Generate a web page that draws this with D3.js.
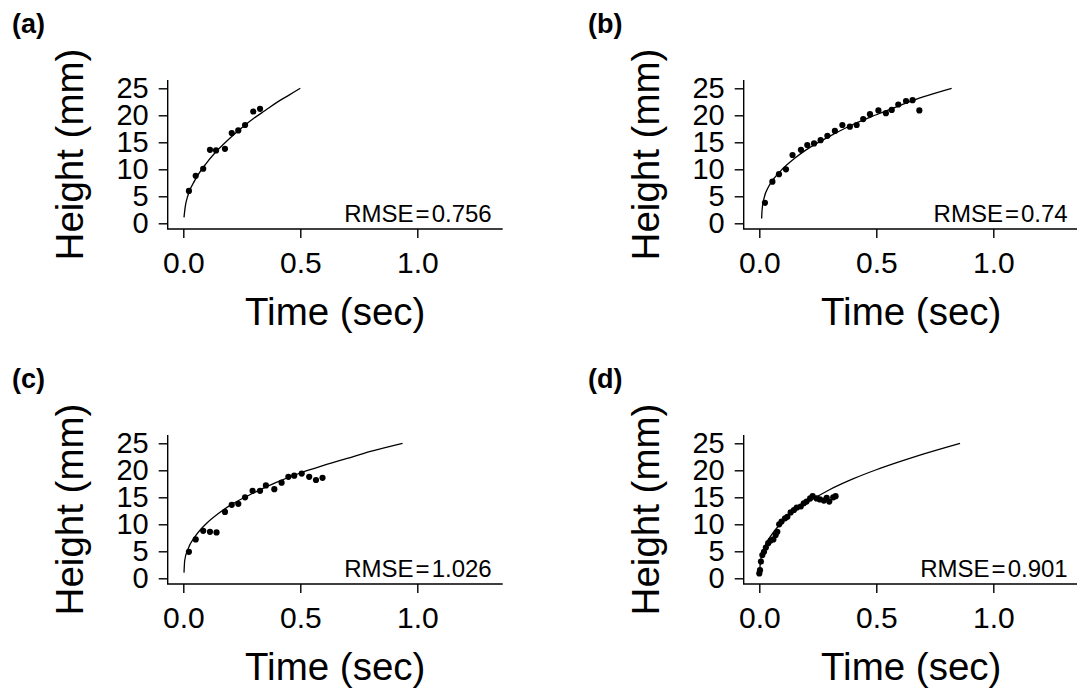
<!DOCTYPE html>
<html>
<head>
<meta charset="utf-8">
<script src="https://cdn.jsdelivr.net/npm/d3@7"></script>
<style>
  html, body { margin: 0; padding: 0; background: #fff; }
  svg { display: block; }
  text { font-family: "Liberation Sans", Arial, sans-serif; fill: #000; }
</style>
</head>
<body>
<svg id="chart" width="1077" height="698"></svg>
<script>
// ---------- data ----------
const panelLabels = ["(a)", "(b)", "(c)", "(d)"];
const rmseValues = ["0.756", "0.74", "1.026", "0.901"];
const xTickValues = [0, 0.5, 1.0];
const yTickValues = [0, 5, 10, 15, 20, 25];
const xAxisTitle = "Time (sec)";
const yAxisTitle = "Height (mm)";

// observed points
const timeA   = [0.024, 0.053, 0.085, 0.114, 0.140, 0.178, 0.207, 0.235, 0.264, 0.299, 0.328];
const heightA = [6.0, 8.8, 10.1, 13.6, 13.5, 13.8, 16.7, 17.2, 18.2, 20.7, 21.2];

const timeB   = [0.024, 0.056, 0.084, 0.114, 0.142, 0.178, 0.205, 0.234, 0.262, 0.291, 0.323, 0.355,
                 0.387, 0.416, 0.444, 0.473, 0.509, 0.541, 0.566, 0.594, 0.627, 0.655, 0.684];
const heightB = [3.8, 7.7, 9.1, 10.0, 12.65, 13.6, 14.5, 14.8, 15.4, 16.2, 17.1, 18.2,
                 17.9, 18.2, 19.3, 20.2, 20.9, 20.4, 21.0, 22.0, 22.65, 22.8, 20.9];

const timeC   = [0.024, 0.053, 0.085, 0.114, 0.142, 0.178, 0.207, 0.235, 0.264, 0.296,
                 0.328, 0.353, 0.389, 0.420, 0.449, 0.474, 0.506, 0.538, 0.567, 0.595];
const heightC = [4.9, 7.2, 8.8, 8.6, 8.5, 12.3, 13.6, 13.8, 15.0, 16.2,
                 16.2, 17.2, 16.5, 17.7, 18.8, 19.0, 19.4, 18.8, 18.2, 18.6];

const timeD   = [0.0, 0.003, 0.007, 0.013, 0.020, 0.028, 0.038, 0.048, 0.060, 0.070, 0.077, 0.085,
                 0.095, 0.110, 0.120, 0.134, 0.148, 0.160, 0.177, 0.190, 0.202, 0.217, 0.228,
                 0.245, 0.259, 0.276, 0.288, 0.299, 0.316, 0.326];
const heightD = [0.9, 1.5, 3.1, 4.3, 4.9, 5.7, 6.5, 7.0, 7.2, 8.0, 8.6, 10.0,
                 10.5, 11.1, 11.4, 12.2, 12.65, 13.1, 13.3, 13.9, 14.2, 14.8, 15.2,
                 14.8, 14.6, 14.4, 14.9, 14.2, 15.0, 15.2];

// fitted curves
const fitTimeA   = [0.003, 0.008, 0.02, 0.05, 0.10, 0.15, 0.20, 0.25, 0.30, 0.35, 0.40, 0.45, 0.50];
const fitHeightA = [1.1, 3.0, 5.2, 8.0, 11.2, 13.7, 15.8, 17.7, 19.4, 20.9, 22.4, 23.7, 25.0];

const fitTimeB   = [0.010, 0.012, 0.02, 0.04, 0.07, 0.10, 0.15, 0.20, 0.30, 0.40, 0.50, 0.60, 0.70, 0.822];
const fitHeightB = [0.9, 2.5, 4.6, 6.8, 8.7, 10.1, 12.0, 13.6, 16.1, 18.3, 20.1, 21.8, 23.4, 25.0];

const fitTimeC   = [0.003, 0.006, 0.02, 0.05, 0.10, 0.15, 0.20, 0.30, 0.40, 0.50, 0.60, 0.70, 0.80, 0.937];
const fitHeightC = [1.05, 3.3, 5.4, 7.7, 10.2, 12.0, 13.5, 15.8, 17.8, 19.5, 20.9, 22.2, 23.5, 25.0];

const fitTimeD   = [0.001, 0.005, 0.02, 0.05, 0.10, 0.15, 0.20, 0.30, 0.40, 0.50, 0.60, 0.70, 0.858];
const fitHeightD = [0.9, 3.1, 5.5, 7.9, 10.5, 12.4, 13.9, 16.4, 18.4, 20.1, 21.6, 23.0, 25.0];

// ---------- layout ----------
const colOffset = [0, 576];
const rowOffset = [0, 355];
const box = { left: 167.7, right: 502.7, top: 80, bottom: 229 };
const xPix = [183.3, 417.3];   // t = 0, t = 1
const yPix = [223.3, 88.3];    // h = 0, h = 25

const zip = (a, b) => a.map((v, i) => [v, b[i]]);
const panels = [
  { label: panelLabels[0], rmse: rmseValues[0], pts: zip(timeA, heightA), fit: zip(fitTimeA, fitHeightA), col: 0, row: 0 },
  { label: panelLabels[1], rmse: rmseValues[1], pts: zip(timeB, heightB), fit: zip(fitTimeB, fitHeightB), col: 1, row: 0 },
  { label: panelLabels[2], rmse: rmseValues[2], pts: zip(timeC, heightC), fit: zip(fitTimeC, fitHeightC), col: 0, row: 1 },
  { label: panelLabels[3], rmse: rmseValues[3], pts: zip(timeD, heightD), fit: zip(fitTimeD, fitHeightD), col: 1, row: 1 }
];

const svg = d3.select("#chart");
svg.append("rect").attr("width", 1077).attr("height", 698).attr("fill", "#fff");

panels.forEach(p => {
  const g = svg.append("g")
    .attr("transform", `translate(${colOffset[p.col]},${rowOffset[p.row]})`);

  const x = d3.scaleLinear().domain([0, 1]).range(xPix);
  const y = d3.scaleLinear().domain([0, 25]).range(yPix);

  // panel label
  g.append("text")
    .attr("x", 12).attr("y", 32.5)
    .attr("font-size", 27).attr("font-weight", "bold")
    .text(p.label);

  // L-shaped box
  g.append("path")
    .attr("d", `M${box.left},${box.top}V${box.bottom}H${box.right}`)
    .attr("fill", "none").attr("stroke", "#000").attr("stroke-width", 1.4);

  // x axis
  const xa = g.append("g").attr("transform", `translate(0,${box.bottom})`)
    .call(d3.axisBottom(x).tickValues(xTickValues).tickFormat(d3.format(".1f"))
      .tickSize(9).tickPadding(14));
  xa.select(".domain").remove();
  xa.selectAll("line").attr("stroke-width", 1.4);
  xa.selectAll("text").attr("font-size", 30).attr("font-family", "Liberation Sans, Arial, sans-serif").attr("fill", "#000");

  // y axis
  const ya = g.append("g").attr("transform", `translate(${box.left},0)`)
    .call(d3.axisLeft(y).tickValues(yTickValues).tickFormat(d3.format("d"))
      .tickSize(9).tickPadding(10));
  ya.select(".domain").remove();
  ya.selectAll("line").attr("stroke-width", 1.4);
  ya.selectAll("text").attr("font-size", 29).attr("font-family", "Liberation Sans, Arial, sans-serif").attr("fill", "#000");

  // axis titles
  g.append("text")
    .attr("x", (box.left + box.right) / 2).attr("y", 325)
    .attr("text-anchor", "middle").attr("font-size", 38.5)
    .text(xAxisTitle);
  g.append("text")
    .attr("transform", `translate(83,${(box.top + box.bottom) / 2}) rotate(-90)`)
    .attr("text-anchor", "middle").attr("font-size", 38.5)
    .text(yAxisTitle);

  // fitted curve
  g.append("path")
    .datum(p.fit)
    .attr("d", d3.line().x(d => x(d[0])).y(d => y(d[1])).curve(d3.curveMonotoneX))
    .attr("fill", "none").attr("stroke", "#000").attr("stroke-width", 1.3);

  // points
  g.selectAll("circle.pt").data(p.pts).enter().append("circle")
    .attr("class", "pt")
    .attr("cx", d => x(d[0])).attr("cy", d => y(d[1]))
    .attr("r", 3.1).attr("fill", "#000");

  // RMSE annotation
  const t = g.append("text")
    .attr("x", box.right - 11).attr("y", 221.7)
    .attr("text-anchor", "end").attr("font-size", 24).attr("fill", "#111");
  t.append("tspan").text("RMSE");
  t.append("tspan").attr("dx", 2).text("=");
  t.append("tspan").attr("dx", 2).text(p.rmse);
});
</script>
</body>
</html>
